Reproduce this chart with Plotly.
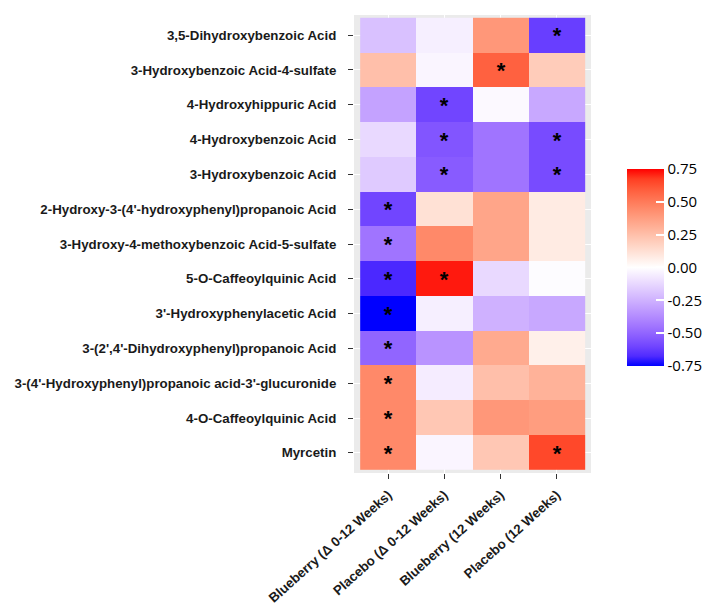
import plotly.graph_objects as go

metabolites = [
    "3,5-Dihydroxybenzoic Acid",
    "3-Hydroxybenzoic Acid-4-sulfate",
    "4-Hydroxyhippuric Acid",
    "4-Hydroxybenzoic Acid",
    "3-Hydroxybenzoic Acid",
    "2-Hydroxy-3-(4'-hydroxyphenyl)propanoic Acid",
    "3-Hydroxy-4-methoxybenzoic Acid-5-sulfate",
    "5-O-Caffeoylquinic Acid",
    "3'-Hydroxyphenylacetic Acid",
    "3-(2',4'-Dihydroxyphenyl)propanoic Acid",
    "3-(4'-Hydroxyphenyl)propanoic acid-3'-glucuronide",
    "4-O-Caffeoylquinic Acid",
    "Myrcetin",
]
groups = [
    "Blueberry (Δ 0-12 Weeks)",
    "Placebo (Δ 0-12 Weeks)",
    "Blueberry (12 Weeks)",
    "Placebo (12 Weeks)",
]
# correlation values, one row per metabolite, columns follow `groups`
values = [
    [-0.20, -0.05, 0.40, -0.62],
    [0.25, -0.03, 0.58, 0.20],
    [-0.30, -0.60, -0.02, -0.28],
    [-0.12, -0.55, -0.45, -0.58],
    [-0.17, -0.53, -0.45, -0.58],
    [-0.60, 0.12, 0.35, 0.08],
    [-0.45, 0.45, 0.35, 0.08],
    [-0.68, 0.72, -0.12, -0.01],
    [-0.75, -0.05, -0.25, -0.28],
    [-0.50, -0.35, 0.33, 0.06],
    [0.45, -0.06, 0.25, 0.30],
    [0.45, 0.22, 0.40, 0.38],
    [0.45, -0.03, 0.22, 0.65],
]
significant = [
    [0, 0, 0, 1],
    [0, 0, 1, 0],
    [0, 1, 0, 0],
    [0, 1, 0, 1],
    [0, 1, 0, 1],
    [1, 0, 0, 0],
    [1, 0, 0, 0],
    [1, 1, 0, 0],
    [1, 0, 0, 0],
    [1, 0, 0, 0],
    [1, 0, 0, 0],
    [1, 0, 0, 0],
    [1, 0, 0, 1],
]
cbar_ticks = [-0.75, -0.50, -0.25, 0.00, 0.25, 0.50, 0.75]


# --- Lab-space interpolation (like ggplot2 scale_fill_gradient2) ---
def _srgb_to_lin(c):
    c = c / 255.0
    return c / 12.92 if c <= 0.04045 else ((c + 0.055) / 1.055) ** 2.4


def _lin_to_srgb(c):
    c = max(0.0, min(1.0, c))
    v = 12.92 * c if c <= 0.0031308 else 1.055 * c ** (1 / 2.4) - 0.055
    return int(round(max(0, min(1, v)) * 255))


def hex_to_lab(h):
    r, g, b = (int(h[i:i + 2], 16) for i in (1, 3, 5))
    r, g, b = _srgb_to_lin(r), _srgb_to_lin(g), _srgb_to_lin(b)
    X = 0.4124 * r + 0.3576 * g + 0.1805 * b
    Y = 0.2126 * r + 0.7152 * g + 0.0722 * b
    Z = 0.0193 * r + 0.1192 * g + 0.9505 * b
    Xn, Yn, Zn = 0.95047, 1.0, 1.08883

    def f(t):
        return t ** (1 / 3) if t > 0.008856 else 7.787 * t + 16 / 116

    fx, fy, fz = f(X / Xn), f(Y / Yn), f(Z / Zn)
    return (116 * fy - 16, 500 * (fx - fy), 200 * (fy - fz))


def lab_to_hex(L, a, b):
    fy = (L + 16) / 116
    fx = fy + a / 500
    fz = fy - b / 200

    def finv(t):
        return t ** 3 if t ** 3 > 0.008856 else (t - 16 / 116) / 7.787

    X, Y, Z = 0.95047 * finv(fx), finv(fy), 1.08883 * finv(fz)
    r = 3.2406 * X - 1.5372 * Y - 0.4986 * Z
    g = -0.9689 * X + 1.8758 * Y + 0.0415 * Z
    bb = 0.0557 * X - 0.2040 * Y + 1.0570 * Z
    return "#%02x%02x%02x" % (_lin_to_srgb(r), _lin_to_srgb(g), _lin_to_srgb(bb))


low, mid, high = hex_to_lab("#0000ff"), hex_to_lab("#ffffff"), hex_to_lab("#ff0000")
colorscale = []
n = 20
for i in range(n + 1):
    t = i / n
    if t <= 0.5:
        s = t / 0.5
        c = [low[k] + (mid[k] - low[k]) * s for k in range(3)]
    else:
        s = (t - 0.5) / 0.5
        c = [mid[k] + (high[k] - mid[k]) * s for k in range(3)]
    colorscale.append([t, lab_to_hex(*c)])

star_text = [["*" if s else "" for s in row] for row in significant]

W, H = 710, 605
ML, MR, MT, MB = 343, 125, 7, 122
PW, PH = W - ML - MR, H - MT - MB

fig = go.Figure()
fig.add_trace(go.Heatmap(
    z=values,
    x=groups,
    y=metabolites,
    zmin=-0.75,
    zmax=0.75,
    colorscale=colorscale,
    text=star_text,
    texttemplate="%{text}",
    textfont=dict(family="Liberation Sans", size=22, color="black", weight="bold"),
    hoverinfo="x+y+z",
    colorbar=dict(
        x=(622 - ML) / PW, xanchor="left",
        y=1 - (167 - MT) / PH, yanchor="top",
        lenmode="pixels", len=197,
        thickness=37,
        outlinewidth=0,
        tickvals=cbar_ticks,
        ticktext=["%.2f" % v for v in cbar_ticks],
        ticks="inside", ticklen=8, tickcolor="white", tickwidth=1.5,
        tickfont=dict(family="Open Sans", size=15, color="black"),
        xpad=0, ypad=0,
    ),
))

axis_font = dict(family="Liberation Sans", size=13.3, color="#1a1a1a", weight="bold")
fig.update_layout(
    width=W, height=H,
    margin=dict(l=ML, r=MR, t=MT, b=MB),
    paper_bgcolor="white",
    plot_bgcolor="#ebebeb",
    font=dict(family="Liberation Sans", color="black"),
    xaxis=dict(
        type="category", range=[-0.61, 3.61],
        tickangle=-42,
        tickfont=axis_font,
        ticklabelstandoff=3,
        ticks="outside", ticklen=5, tickcolor="#333333", tickwidth=1.2,
        showgrid=True, gridcolor="white", gridwidth=1,
        zeroline=False, showline=False,
    ),
    yaxis=dict(
        type="category", range=[12.58, -0.58],
        tickfont=axis_font,
        ticklabelstandoff=9,
        ticks="outside", ticklen=5, tickcolor="#333333", tickwidth=1.2,
        showgrid=True, gridcolor="white", gridwidth=1,
        zeroline=False, showline=False,
    ),
)

fig.write_html("out.html")
